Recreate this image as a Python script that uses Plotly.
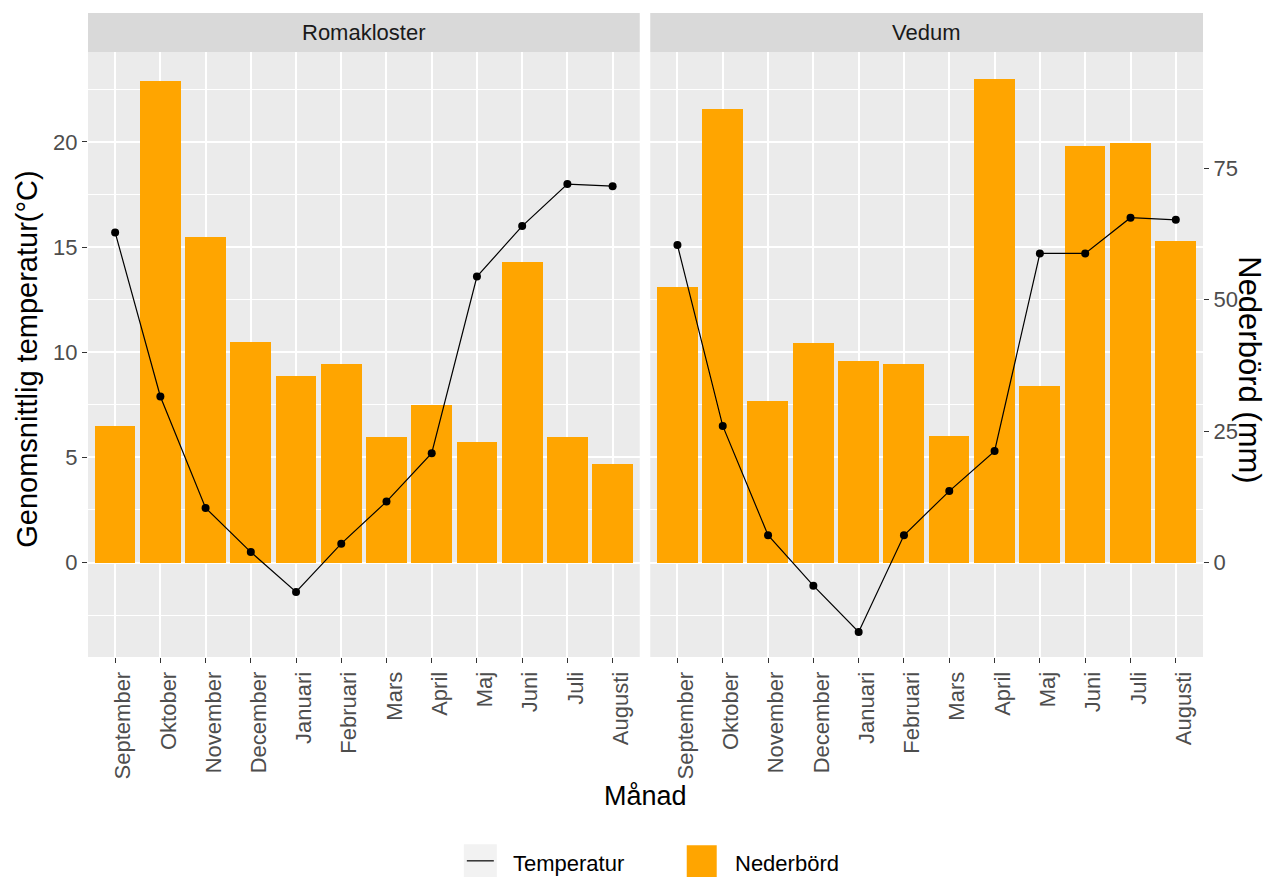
import plotly.graph_objects as go

# ---- data -------------------------------------------------------------
months = ["September", "Oktober", "November", "December", "Januari", "Februari",
          "Mars", "April", "Maj", "Juni", "Juli", "Augusti"]
stations = ["Romakloster", "Vedum"]

# mean monthly temperature (°C)
roma_temp = [15.7, 7.9, 2.6, 0.5, -1.4, 0.9, 2.9, 5.2, 13.6, 16.0, 18.0, 17.9]
vedum_temp = [15.1, 6.5, 1.3, -1.1, -3.3, 1.3, 3.4, 5.3, 14.7, 14.7, 16.4, 16.3]

# monthly precipitation (mm)
roma_precip = [25.9, 91.7, 62.0, 42.0, 35.5, 37.8, 23.8, 30.0, 22.9, 57.1, 23.8, 18.8]
vedum_precip = [52.4, 86.2, 30.8, 41.7, 38.3, 37.8, 24.0, 91.9, 33.6, 79.2, 79.9, 61.1]

temp_ticks = [0, 5, 10, 15, 20]
temp_minor = [-2.5, 2.5, 7.5, 12.5, 17.5, 22.5]
precip_ticks = [0, 25, 50, 75]

# secondary axis: 1 °C on the left corresponds to 4 mm on the right
MM_PER_DEGREE = 4
temp_range = [-4.49, 24.28]
mm_range = [v * MM_PER_DEGREE for v in temp_range]

# ---- geometry (pixels) ---------------------------------------------------
W, H = 1266, 877
ML, MR, MT, MB = 88, 62.5, 13, 219.5
PW, PH = W - ML - MR, H - MT - MB


def fx(px):
    return (px - ML) / PW


def fy(py):
    return (H - MB - py) / PH


panels = [(88, 640), (650.5, 1203.5)]
STRIP_TOP, STRIP_BOTTOM = 13, 52

FONT = "Liberation Sans, Arial, sans-serif"
ORANGE = "#FFA500"
PANEL_BG = "#EBEBEB"
STRIP_BG = "#D9D9D9"
TICK_TXT = "#4D4D4D"
TICK_COL = "#333333"

fig = go.Figure()

# precipitation bars (mm axes)
for xa, ya, vals in [("x", "y", roma_precip), ("x2", "y2", vedum_precip)]:
    fig.add_trace(go.Bar(
        x=months, y=vals, xaxis=xa, yaxis=ya, name="Nederbörd",
        marker=dict(color=ORANGE, line=dict(width=0)), width=0.9,
        showlegend=False,
    ))

# temperature lines (°C axes overlaid on top)
for xa, ya, vals in [("x", "y3", roma_temp), ("x2", "y4", vedum_temp)]:
    fig.add_trace(go.Scatter(
        x=months, y=vals, xaxis=xa, yaxis=ya, name="Temperatur",
        mode="lines+markers",
        line=dict(color="black", width=1.2),
        marker=dict(color="black", size=8),
        showlegend=False,
    ))

xcommon = dict(
    type="category", categoryorder="array", categoryarray=months,
    range=[-0.6, 11.6], tickangle=-90, ticks="outside", ticklen=5,
    tickwidth=1.1, tickcolor=TICK_COL, ticklabelshift=8,
    tickfont=dict(family=FONT, size=22, color=TICK_TXT),
    showgrid=True, gridcolor="white", gridwidth=1.6,
    zeroline=False, showline=False, fixedrange=True,
)
ydomain = [0, fy(STRIP_BOTTOM)]
temp_grid = dict(
    range=temp_range, tickmode="array", tickvals=temp_ticks,
    showgrid=True, gridcolor="white", gridwidth=1.6, zeroline=False,
    minor=dict(tickmode="array", tickvals=temp_minor, showgrid=True,
               gridcolor="white", gridwidth=0.8, ticks=""),
)

fig.update_layout(
    width=W, height=H,
    margin=dict(l=ML, r=MR, t=MT, b=MB, autoexpand=False),
    paper_bgcolor="white", plot_bgcolor=PANEL_BG,
    font=dict(family=FONT, color="black"),
    bargap=0, showlegend=False,
    xaxis=dict(domain=[fx(panels[0][0]), fx(panels[0][1])], anchor="y", **xcommon),
    xaxis2=dict(domain=[fx(panels[1][0]), fx(panels[1][1])], anchor="y2", **xcommon),
    yaxis=dict(domain=ydomain, anchor="x", range=mm_range, visible=False,
               showgrid=False, zeroline=False),
    yaxis2=dict(domain=ydomain, anchor="x2", side="right", range=mm_range,
                tickmode="array", tickvals=precip_ticks, ticks="outside",
                ticklen=5, tickwidth=1.1, tickcolor=TICK_COL,
                tickfont=dict(family=FONT, size=22, color=TICK_TXT),
                showgrid=False, zeroline=False, showline=False),
    yaxis3=dict(overlaying="y", anchor="x", side="left", ticks="outside",
                ticklen=5, tickwidth=1.1, tickcolor=TICK_COL,
                tickfont=dict(family=FONT, size=22, color=TICK_TXT),
                showline=False, **temp_grid),
    yaxis4=dict(overlaying="y2", anchor="x2", side="left", ticks="",
                showticklabels=False, showline=False, **temp_grid),
)

shapes = []
annotations = []

# facet strips
for (x0, x1), name in zip(panels, stations):
    shapes.append(dict(type="rect", xref="paper", yref="paper",
                       x0=fx(x0), x1=fx(x1), y0=fy(STRIP_BOTTOM), y1=fy(STRIP_TOP),
                       fillcolor=STRIP_BG, line=dict(width=0), layer="below"))
    annotations.append(dict(text=name, xref="paper", yref="paper",
                            x=fx((x0 + x1) / 2), y=fy((STRIP_TOP + STRIP_BOTTOM) / 2),
                            xanchor="center", yanchor="middle", showarrow=False,
                            font=dict(family=FONT, size=22, color="#1A1A1A")))

# axis titles
annotations += [
    dict(text="Genomsnittlig temperatur(°C)", xref="paper", yref="paper",
         x=fx(27), y=fy(360), xanchor="center", yanchor="middle",
         textangle=-90, showarrow=False, font=dict(family=FONT, size=29, color="black")),
    dict(text="Nederbörd (mm)", xref="paper", yref="paper",
         x=fx(1250), y=fy(370), xanchor="center", yanchor="middle",
         textangle=90, showarrow=False, font=dict(family=FONT, size=31, color="black")),
    dict(text="Månad", xref="paper", yref="paper",
         x=fx(646), y=fy(797), xanchor="center", yanchor="middle",
         showarrow=False, font=dict(family=FONT, size=27, color="black")),
]

# legend
shapes += [
    dict(type="rect", xref="paper", yref="paper", x0=fx(464), x1=fx(497),
         y0=fy(878), y1=fy(845), fillcolor="#F2F2F2", line=dict(width=0)),
    dict(type="line", xref="paper", yref="paper", x0=fx(467), x1=fx(494),
         y0=fy(861.5), y1=fy(861.5), line=dict(color="black", width=1.2)),
    dict(type="rect", xref="paper", yref="paper", x0=fx(687), x1=fx(717),
         y0=fy(878), y1=fy(846), fillcolor=ORANGE, line=dict(width=0)),
]
annotations += [
    dict(text="Temperatur", xref="paper", yref="paper", x=fx(511), y=fy(864),
         xanchor="left", yanchor="middle", showarrow=False,
         font=dict(family=FONT, size=22, color="black")),
    dict(text="Nederbörd", xref="paper", yref="paper", x=fx(733), y=fy(864),
         xanchor="left", yanchor="middle", showarrow=False,
         font=dict(family=FONT, size=22, color="black")),
]

fig.update_layout(shapes=shapes, annotations=annotations)

fig.write_html("out.html")
